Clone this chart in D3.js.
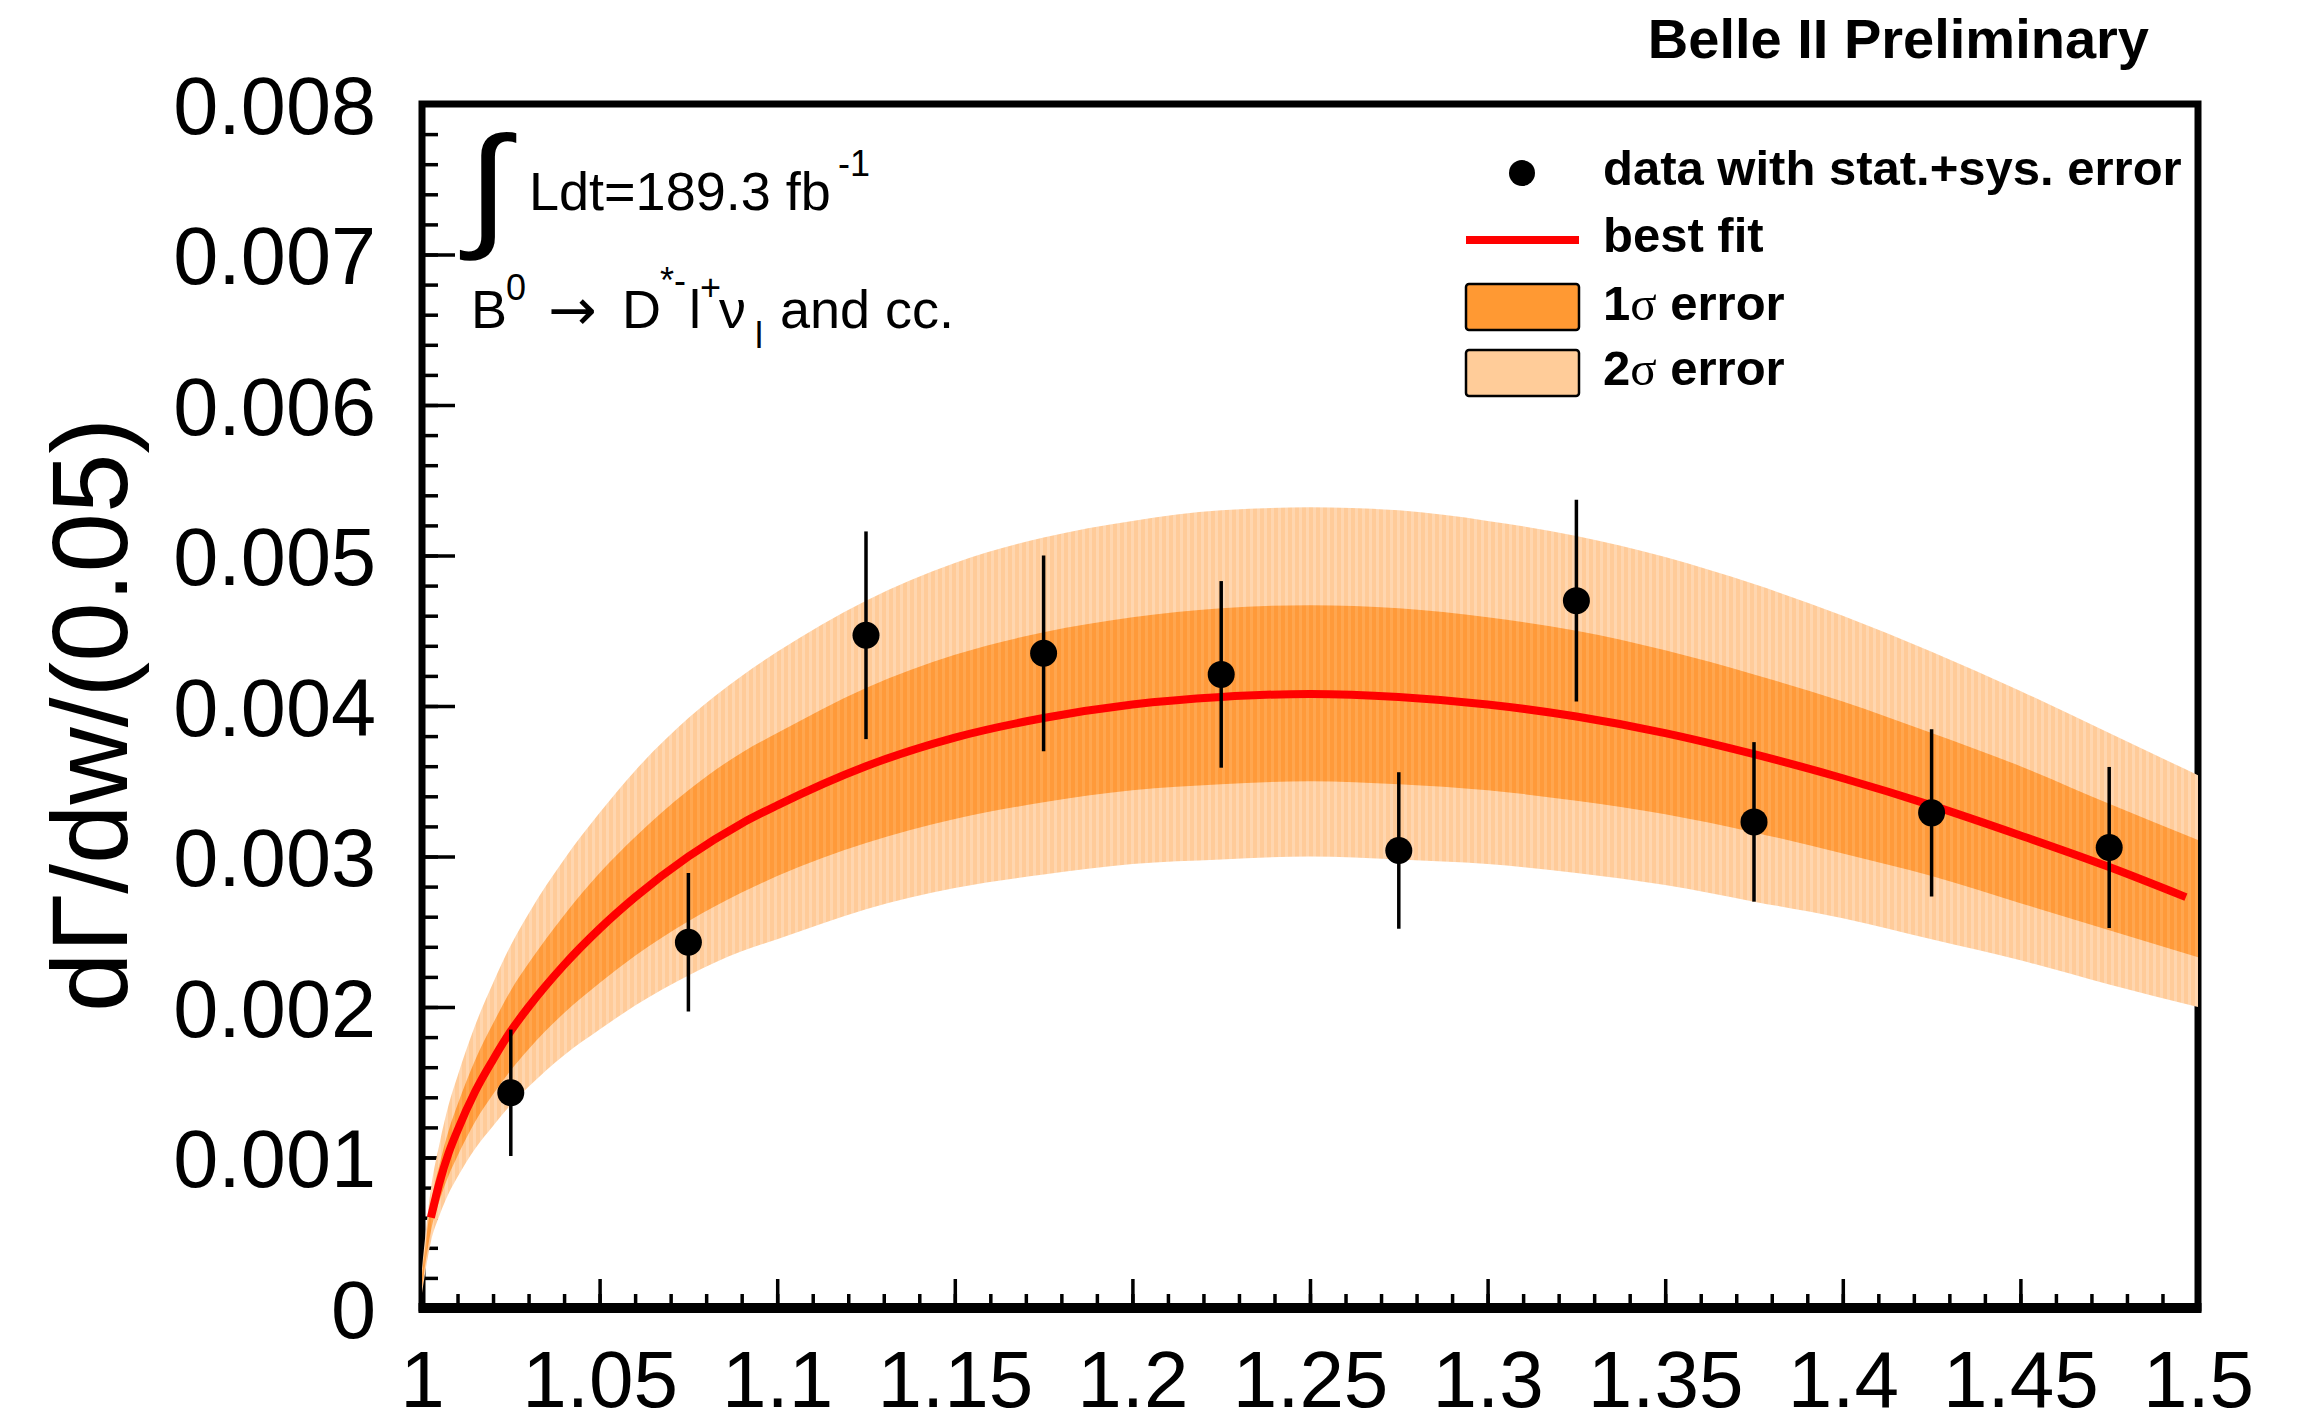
<!DOCTYPE html>
<html>
<head>
<meta charset="utf-8">
<script src="https://cdn.jsdelivr.net/npm/d3@7"></script>
<style>
  html, body { margin: 0; padding: 0; background: #fff; }
  svg { display: block; }
  text { font-family: "Liberation Sans", Arial, Helvetica, sans-serif; fill: #000; }
</style>
</head>
<body>
<div id="chart"></div>
<script>
// ---------------- data ----------------
const xTickValues = [1, 1.05, 1.1, 1.15, 1.2, 1.25, 1.3, 1.35, 1.4, 1.45, 1.5];
const xTickLabels = ["1", "1.05", "1.1", "1.15", "1.2", "1.25", "1.3", "1.35", "1.4", "1.45", "1.5"];
const yTickValues = [0, 0.001, 0.002, 0.003, 0.004, 0.005, 0.006, 0.007, 0.008];
const yTickLabels = ["0", "0.001", "0.002", "0.003", "0.004", "0.005", "0.006", "0.007", "0.008"];

// data points with stat.+sys. error
const dataW = [1.025, 1.075, 1.125, 1.175, 1.225, 1.275, 1.325, 1.375, 1.425, 1.475];
const dataV = [0.00143, 0.00243, 0.00447, 0.00435, 0.00421, 0.00304, 0.00470, 0.00323, 0.00329, 0.00306];
const dataE = [0.00042, 0.00046, 0.00069, 0.00065, 0.00062, 0.00052, 0.00067, 0.00053, 0.000555, 0.000535];

// best fit curve
const fitW = [1.0025, 1.005, 1.0075, 1.01, 1.015, 1.02, 1.025, 1.03, 1.04, 1.05, 1.06, 1.075, 1.09, 1.1,
              1.125, 1.15, 1.175, 1.2, 1.225, 1.25, 1.275, 1.3, 1.325, 1.35, 1.375, 1.4, 1.425, 1.45, 1.475, 1.4966];
const fitV = [0.00060, 0.00084, 0.00103, 0.00118, 0.00144, 0.00165, 0.00184, 0.00200, 0.00228, 0.00252,
              0.00273, 0.00300, 0.00322, 0.00334, 0.00360, 0.00379, 0.00392, 0.00401, 0.00406, 0.00408,
              0.00406, 0.00401, 0.00393, 0.00382, 0.00368, 0.00352, 0.00334, 0.00314, 0.00293, 0.00273];

// error bands
const bandW = [1.0, 1.0025, 1.005, 1.0075, 1.01, 1.015, 1.02, 1.025, 1.03, 1.04, 1.05, 1.06, 1.075, 1.09, 1.1,
               1.125, 1.15, 1.175, 1.2, 1.225, 1.25, 1.275, 1.3, 1.325, 1.35, 1.375, 1.4, 1.425, 1.45, 1.475, 1.5];
const sig1Hi = [0.00022, 0.00069, 0.00096, 0.00118, 0.00135, 0.00165, 0.00189, 0.00211, 0.00229, 0.00261, 0.00289,
                0.00313, 0.00344, 0.00369, 0.00382, 0.00412, 0.00434, 0.00449, 0.00459, 0.00465, 0.00467, 0.00465,
                0.00459, 0.00450, 0.00437, 0.00421, 0.00403, 0.00382, 0.00360, 0.00335, 0.00311];
const sig1Lo = [0.00014, 0.00051, 0.00072, 0.00088, 0.00101, 0.00124, 0.00142, 0.00158, 0.00172, 0.00196, 0.00216,
                0.00234, 0.00257, 0.00276, 0.00287, 0.00309, 0.00325, 0.00336, 0.00344, 0.00348, 0.00350, 0.00348,
                0.00344, 0.00337, 0.00328, 0.00316, 0.00302, 0.00287, 0.00269, 0.00251, 0.00233];
const sig2Hi = [0.00026, 0.00079, 0.00110, 0.00135, 0.00154, 0.00188, 0.00216, 0.00241, 0.00262, 0.00298, 0.00329,
                0.00357, 0.00392, 0.00420, 0.00436, 0.00470, 0.00495, 0.00512, 0.00523, 0.00530, 0.00532, 0.00530,
                0.00523, 0.00513, 0.00499, 0.00481, 0.00460, 0.00436, 0.00410, 0.00382, 0.00354];
const sig2Lo = [0.00010, 0.00044, 0.00062, 0.00076, 0.00087, 0.00106, 0.00121, 0.00135, 0.00147, 0.00168, 0.00185,
                0.00201, 0.00221, 0.00237, 0.00245, 0.00265, 0.00279, 0.00288, 0.00295, 0.00298, 0.00300, 0.00298,
                0.00295, 0.00289, 0.00281, 0.00270, 0.00259, 0.00245, 0.00231, 0.00215, 0.00200];

const legendLabels = ["data with stat.+sys. error", "best fit", "1", "2"];

// ---------------- drawing ----------------
const W = 2299, H = 1412;
const svg = d3.select("#chart").append("svg")
  .attr("width", W).attr("height", H)
  .attr("viewBox", `0 0 ${W} ${H}`);
svg.append("rect").attr("width", W).attr("height", H).attr("fill", "#fff");

const x = d3.scaleLinear().domain([1, 1.5]).range([422, 2198]);
const y = d3.scaleLinear().domain([0, 0.008]).range([1308, 104]);

// stripe patterns for the bands
const defs = svg.append("defs");
function stripe(id, base, light) {
  const p = defs.append("pattern").attr("id", id)
    .attr("patternUnits", "userSpaceOnUse").attr("width", 7).attr("height", 20);
  p.append("rect").attr("width", 7).attr("height", 20).attr("fill", base);
  p.append("rect").attr("x", 4).attr("width", 3).attr("height", 20).attr("fill", light);
}
stripe("s1", "#FF9A3A", "#FFA64F");
stripe("s2", "#FFCB99", "#FFD6AF");

// frame
const frame = svg.append("g");
frame.append("rect")
  .attr("x", x(1)).attr("y", y(0.008))
  .attr("width", x(1.5) - x(1)).attr("height", y(0) - y(0.008))
  .attr("fill", "none").attr("stroke", "#000").attr("stroke-width", 7);
frame.append("line")
  .attr("x1", x(1) - 3.5).attr("x2", x(1.5) + 3.5)
  .attr("y1", y(0)).attr("y2", y(0))
  .attr("stroke", "#000").attr("stroke-width", 10);

// x axis
const xMinor = d3.range(0, 51).map(i => 1 + i * 0.01);
const xAxisMinor = d3.axisBottom(x).tickValues(xMinor).tickSizeInner(-14).tickSizeOuter(0).tickFormat("");
const gxm = svg.append("g").attr("transform", `translate(0,${y(0)})`).call(xAxisMinor);
const xAxis = d3.axisBottom(x).tickValues(xTickValues).tickSizeInner(-29).tickSizeOuter(0)
  .tickPadding(42).tickFormat((d, i) => xTickLabels[i]);
const gx = svg.append("g").attr("transform", `translate(0,${y(0)})`).call(xAxis);

// y axis
const yMinor = d3.range(0, 41).map(i => i * 0.0002);
const yAxisMinor = d3.axisLeft(y).tickValues(yMinor).tickSizeInner(-16).tickSizeOuter(0).tickFormat("");
const gym = svg.append("g").attr("transform", `translate(${x(1)},0)`).call(yAxisMinor);
const yAxis = d3.axisLeft(y).tickValues(yTickValues).tickSizeInner(-33).tickSizeOuter(0)
  .tickPadding(46).tickFormat((d, i) => yTickLabels[i]);
const gy = svg.append("g").attr("transform", `translate(${x(1)},0)`).call(yAxis);

[gx, gxm, gy, gym].forEach(g => {
  g.select(".domain").remove();
  g.selectAll(".tick line").attr("stroke", "#000").attr("stroke-width", 3.5);
});
gx.selectAll(".tick text")
  .attr("font-size", 80).attr("font-family", "Liberation Sans, Arial, sans-serif").attr("fill", "#000");
gy.selectAll(".tick text")
  .attr("font-size", 81).attr("font-family", "Liberation Sans, Arial, sans-serif").attr("fill", "#000")
  .attr("dy", "0.36em");

// y axis title
svg.append("text")
  .attr("transform", `translate(127,715) rotate(-90)`)
  .attr("text-anchor", "middle")
  .attr("font-size", 107)
  .text("dΓ/dw/(0.05)");

// bands
const bandIdx = d3.range(bandW.length);
const area2 = d3.area().curve(d3.curveMonotoneX)
  .x(i => x(bandW[i])).y0(i => y(sig2Lo[i])).y1(i => y(sig2Hi[i]));
const area1 = d3.area().curve(d3.curveMonotoneX)
  .x(i => x(bandW[i])).y0(i => y(sig1Lo[i])).y1(i => y(sig1Hi[i]));
svg.append("path").datum(bandIdx).attr("d", area2).attr("fill", "url(#s2)");
svg.append("path").datum(bandIdx).attr("d", area1).attr("fill", "url(#s1)");

// best fit
const fitLine = d3.line().curve(d3.curveMonotoneX)
  .x(i => x(fitW[i])).y(i => y(fitV[i]));
svg.append("path").datum(d3.range(fitW.length)).attr("d", fitLine)
  .attr("fill", "none").attr("stroke", "#FF0000").attr("stroke-width", 8).attr("stroke-linecap", "butt");

// data points
const pts = svg.append("g");
dataW.forEach((w, i) => {
  pts.append("line")
    .attr("x1", x(w)).attr("x2", x(w))
    .attr("y1", y(dataV[i] - dataE[i])).attr("y2", y(dataV[i] + dataE[i]))
    .attr("stroke", "#000").attr("stroke-width", 3.5);
  pts.append("circle").attr("cx", x(w)).attr("cy", y(dataV[i])).attr("r", 13.5).attr("fill", "#000");
});

// header text
svg.append("text").attr("x", 2149).attr("y", 58).attr("text-anchor", "end")
  .attr("font-size", 56).attr("font-weight", "bold").text("Belle II Preliminary");

// luminosity annotation
svg.append("text")
  .attr("transform", "translate(467,232) scale(1.12,1)")
  .attr("font-family", "Liberation Serif, 'DejaVu Serif', serif")
  .attr("font-size", 136).text("∫");
const lum = svg.append("text").attr("font-size", 54);
lum.append("tspan").attr("x", 529).attr("y", 210).text("Ldt=189.3 fb");
lum.append("tspan").attr("x", 838).attr("y", 176).attr("font-size", 36).text("-1");

// decay annotation
const dec = svg.append("text").attr("font-size", 54);
dec.append("tspan").attr("x", 471).attr("y", 328).text("B");
dec.append("tspan").attr("x", 506).attr("y", 300).attr("font-size", 36).text("0");
dec.append("tspan").attr("x", 548).attr("y", 330).attr("font-family", "DejaVu Sans, sans-serif")
  .attr("font-size", 58).text("→");
dec.append("tspan").attr("x", 622).attr("y", 328).text("D");
dec.append("tspan").attr("x", 660).attr("y", 293).attr("font-size", 36).text("*-");
dec.append("tspan").attr("x", 689).attr("y", 328).text("l");
dec.append("tspan").attr("x", 700).attr("y", 300).attr("font-size", 36).text("+");
dec.append("tspan").attr("x", 719).attr("y", 328).text("ν");
dec.append("tspan").attr("x", 755).attr("y", 348).attr("font-size", 36).text("l");
dec.append("tspan").attr("x", 780).attr("y", 328).text("and cc.");

// legend
const lg = svg.append("g");
lg.append("circle").attr("cx", 1522).attr("cy", 173).attr("r", 13).attr("fill", "#000");
lg.append("text").attr("x", 1603).attr("y", 185).attr("font-size", 49).attr("font-weight", "bold")
  .text(legendLabels[0]);
lg.append("line").attr("x1", 1466).attr("x2", 1579).attr("y1", 240).attr("y2", 240)
  .attr("stroke", "#FF0000").attr("stroke-width", 8);
lg.append("text").attr("x", 1603).attr("y", 252).attr("font-size", 49).attr("font-weight", "bold")
  .text(legendLabels[1]);
lg.append("rect").attr("x", 1466).attr("y", 284).attr("width", 113).attr("height", 46).attr("rx", 3)
  .attr("fill", "#FF9933").attr("stroke", "#000").attr("stroke-width", 2.5);
lg.append("rect").attr("x", 1466).attr("y", 350).attr("width", 113).attr("height", 46).attr("rx", 3)
  .attr("fill", "#FFCC99").attr("stroke", "#000").attr("stroke-width", 2.5);
[[legendLabels[2], 320], [legendLabels[3], 385]].forEach(([n, yy]) => {
  const t = lg.append("text").attr("x", 1603).attr("y", yy).attr("font-size", 49).attr("font-weight", "bold");
  t.append("tspan").text(n);
  t.append("tspan").attr("font-weight", "normal").attr("font-family", "Liberation Serif, serif").text("σ");
  t.append("tspan").text(" error");
});
</script>
</body>
</html>
